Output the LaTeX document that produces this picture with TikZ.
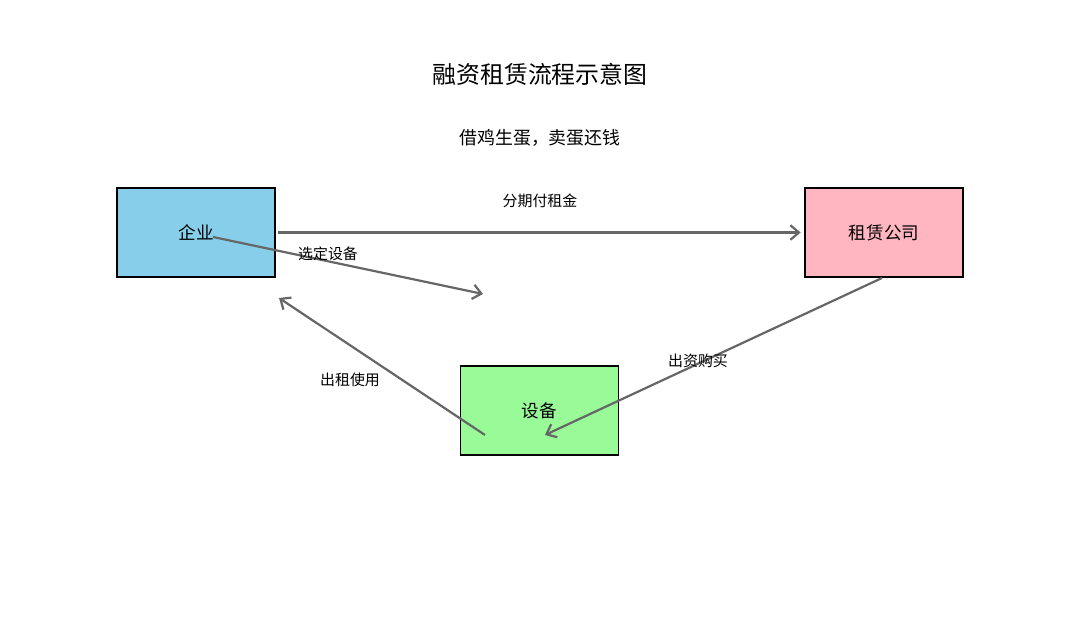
\documentclass[tikz,border=0pt]{standalone}
\usepackage{fontspec}
\setmainfont{Noto Sans CJK SC}
\usetikzlibrary{arrows.meta}

\definecolor{qiyeblue}{HTML}{87CEEB}
\definecolor{zulinpink}{HTML}{FFB6C1}
\definecolor{shebeigreen}{HTML}{98FB98}

\tikzset{
  box/.style={draw=black, line width=1pt, minimum width=3.16cm, minimum height=1.78cm,
    inner sep=0pt, font=\fontsize{10}{12}\selectfont},
  flow/.style={draw=black!60, line width=1.25pt, -{Straight Barb[length=1.7mm,width=2.9mm]}},
  lbl/.style={inner sep=1pt, font=\fontsize{8.5}{10}\selectfont},
}

\begin{document}
\begin{tikzpicture}[x=0.02cm, y=-0.02cm]
  \useasboundingbox (0,0) rectangle (1080,644);

  % Titles
  \node[font=\fontsize{13.6}{16}\selectfont] (title) at (540,74) {融资租赁流程示意图};
  \node[font=\fontsize{10.2}{12}\selectfont] (subtitle) at (540,138) {借鸡生蛋，卖蛋还钱};

  % Boxes
  \node[box, fill=qiyeblue]    (qiye)   at (196,232.5) {企业};
  \node[box, fill=zulinpink]   (zulin)  at (884,232.5) {租赁公司};
  \node[box, fill=shebeigreen] (shebei) at (539.5,410.5) {设备};

  % Free arrow ends
  \coordinate (xuanA) at (213,237);
  \coordinate (xuanB) at (483,294);
  \coordinate (chuzuA) at (485,435);
  \coordinate (chuzuB) at (279,298);
  \coordinate (chuziA) at (882,278);
  \coordinate (chuziB) at (545,435);

  % Arrows
  \draw[flow, shorten <=1pt, shorten >=2pt] (qiye) -- (zulin);
  \draw[flow] (xuanA) -- (xuanB);
  \draw[flow] (chuzuA) -- (chuzuB);
  \draw[flow] (chuziA) -- (chuziB);

  % Arrow labels
  \node[lbl] (fenqi)   at (540,201) {分期付租金};
  \node[lbl] (xuanding) at (328,254) {选定设备};
  \node[lbl] (chuzu)   at (350,380) {出租使用};
  \node[lbl] (chuzi)   at (698,361) {出资购买};
\end{tikzpicture}
\end{document}
